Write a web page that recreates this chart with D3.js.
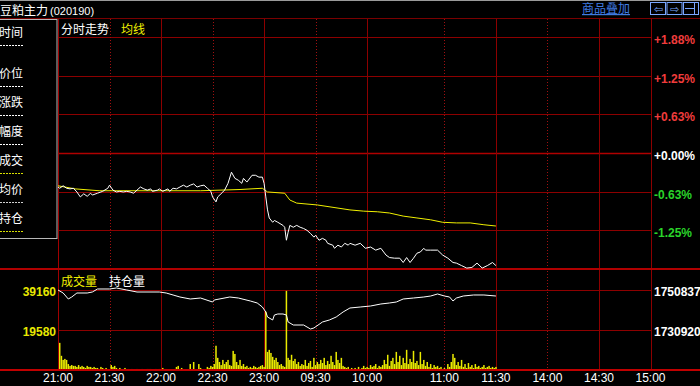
<!DOCTYPE html>
<html>
<head>
<meta charset="utf-8">
<script src="https://cdn.jsdelivr.net/npm/d3@7"></script>
<style>
body { margin: 0; background: #000; }
svg { display: block; }
text { font-family: "Liberation Sans", Arial, sans-serif; }
.cjk { font-family: "Noto Sans CJK SC", sans-serif; }
</style>
</head>
<body>
<svg width="700" height="386"></svg>
<script>
const width = 700, height = 386;

// trading sessions and axis labels
const sessions = [["21:00", "23:00"], ["09:00", "10:15"], ["10:30", "11:30"], ["13:30", "15:00"]];
const timeLabels = ["21:00", "21:30", "22:00", "22:30", "23:00", "09:30", "10:00", "11:00", "11:30", "14:00", "14:30", "15:00"];
const dottedTimes = ["21:30", "22:30", "09:30", "11:00", "14:00"];

const pctTicks = [1.875, 1.25, 0.625, 0, -0.625, -1.25];
const volTicks = [19580, 39160];
const oiTicks = [1730920, 1750837];

const infoLabels = ["时间", "价位", "涨跌", "幅度", "成交", "均价", "持仓"];

// price (% change) by trading minute
const priceMin = [0,1,3,5,7,9,11,13,15,17,19,20,23,25,26,29,30,32,34,36,38,40,42,44,46,48,50,52,54,55,58,59,61,64,65,67,69,71,73,75,77,79,81,83,85,87,89,90,92,93,96,97,99,101,103,105,107,108,110,113,115,117,119,120,121,122,123,125,126,128,131,132,133,134,135,137,139,141,143,145,147,149,150,152,154,156,157,160,161,163,165,167,169,170,173,176,179,182,185,188,191,193,196,199,201,203,205,207,209,211,213,214,217,221,224,227,230,232,235,238,241,244,247,250,253,255];
const pricePct = [-0.55,-0.57,-0.53,-0.57,-0.58,-0.57,-0.63,-0.71,-0.66,-0.70,-0.65,-0.68,-0.65,-0.63,-0.62,-0.57,-0.52,-0.60,-0.63,-0.62,-0.63,-0.62,-0.63,-0.65,-0.60,-0.55,-0.58,-0.60,-0.58,-0.62,-0.60,-0.58,-0.62,-0.58,-0.62,-0.57,-0.58,-0.55,-0.52,-0.55,-0.52,-0.50,-0.55,-0.53,-0.52,-0.57,-0.62,-0.71,-0.79,-0.71,-0.63,-0.60,-0.49,-0.31,-0.41,-0.44,-0.49,-0.41,-0.47,-0.36,-0.36,-0.39,-0.39,-0.49,-0.71,-0.92,-1.05,-1.12,-1.09,-1.12,-1.17,-1.20,-1.41,-1.28,-1.17,-1.20,-1.17,-1.20,-1.22,-1.25,-1.30,-1.36,-1.33,-1.41,-1.38,-1.41,-1.46,-1.49,-1.54,-1.49,-1.52,-1.46,-1.49,-1.46,-1.49,-1.46,-1.54,-1.52,-1.57,-1.54,-1.65,-1.69,-1.70,-1.70,-1.77,-1.69,-1.77,-1.70,-1.62,-1.60,-1.54,-1.57,-1.57,-1.57,-1.65,-1.70,-1.77,-1.78,-1.82,-1.86,-1.85,-1.78,-1.86,-1.82,-1.77,-1.82];

// average price (% change)
const avgMin = [0,4,10,24,54,83,106,119,122,132,135,139,151,170,178,186,193,201,209,217,224,232,240,248,255];
const avgPct = [-0.53,-0.55,-0.58,-0.61,-0.61,-0.61,-0.59,-0.57,-0.63,-0.65,-0.76,-0.81,-0.84,-0.92,-0.94,-0.95,-0.97,-1.02,-1.05,-1.08,-1.12,-1.13,-1.13,-1.16,-1.18];

// open interest
const oiMin = [0,3,6,8,11,17,20,23,30,34,40,46,59,63,67,71,77,83,90,91,100,105,112,116,119,121,122,125,126,128,131,133,134,137,143,147,149,154,158,162,166,170,176,182,188,193,197,201,207,213,217,221,225,228,230,232,236,242,248,255];
const oiVal = [1750590,1749090,1746110,1747100,1749090,1749090,1749590,1751090,1751090,1751580,1750590,1749590,1749590,1749090,1748100,1747100,1746110,1746600,1744610,1745610,1747100,1746600,1745110,1744120,1742120,1739640,1737150,1735650,1738140,1738640,1738640,1738140,1734660,1733160,1733160,1731170,1731670,1734660,1735650,1737150,1739640,1741630,1742120,1742620,1743620,1744120,1744610,1746110,1746600,1747100,1747600,1748600,1747600,1747100,1745110,1746600,1747600,1748100,1748100,1747600];

// volume per minute
const volume = [
  13200,6900,4900,5400,4900,2900,2000,2400,2000,2000,1500,2400,1500,2000,1500,1000,2000,1500,1500,1000,1500,1000,1000,500,1500,1000,500,1000,500,200,
  2400,1500,2000,1000,500,1000,200,500,1000,200,500,200,500,200,200,500,200,200,500,200,200,500,500,500,200,200,500,200,500,200,
  1000,200,500,200,200,200,200,500,1500,2000,200,1000,200,200,200,200,2900,200,3900,200,200,2900,1000,200,500,200,1500,1000,2000,1500,
  2900,11800,5900,3900,2400,4900,2900,3900,4900,2400,2000,9300,7800,3900,2400,4900,2000,2900,1500,2000,1000,1500,1000,2000,1500,1000,1500,2000,2400,1500,
  28400,8800,9800,8300,6400,4900,5900,3900,2400,2900,2000,1500,38500,5900,4900,7400,4400,5400,2900,3900,2000,2900,2400,4900,2000,3400,4400,1500,5900,2400,
  3900,2900,4900,3400,5900,2400,4400,2900,6900,3900,2400,8800,4900,3400,5900,2000,1500,1000,1500,500,1000,500,1000,500,1500,500,1000,2000,1000,1500,
  1000,2400,1500,2000,2900,1000,2000,1500,2400,4900,2900,7400,2000,4400,5900,2900,8800,3900,6900,2400,5900,3400,9800,2900,5400,3900,9300,3400,4400,2400,
  8800,2900,4900,2000,3900,1500,2900,1000,2400,1500,2000,1000,1500,500,1000,500,2900,1500,3900,7800,5900,2400,3900,2000,4900,1500,2900,1000,3400,1500,
  2400,1000,2900,1500,2000,1000,1500,2400,1000,1500,2000,1000,1500,1000,1500
];

function toMin(s) {
  const p = s.split(":").map(Number);
  return p[0] * 60 + p[1];
}
function tradingMinute(s) {
  let acc = 0;
  const m = toMin(s);
  for (const [a, b] of sessions) {
    const A = toMin(a), B = toMin(b);
    if (m >= A && m <= B) return acc + (m - A);
    acc += B - A;
  }
  return acc;
}
const totalMin = tradingMinute("15:00");

const svg = d3.select("svg");

const left = 58, right = 651;
const x = d3.scaleLinear().domain([0, totalMin]).range([left, right - 0.5]);
const yP = d3.scaleLinear().domain([-1.875, 1.875]).range([269, 37]);
const yV = d3.scaleLinear().domain([0, 39160]).range([370, 289.5]);
const yOI = d3.scaleLinear().domain(oiTicks).range([329.5, 289.5]);

const gridRed = "#8c0000";

// top line and title
svg.append("line").attr("x1", 0).attr("x2", width).attr("y1", 0.5).attr("y2", 0.5).attr("stroke", "#9a9a9a");
svg.append("text").attr("class", "cjk").attr("x", 0).attr("y", 15)
  .attr("fill", "#fff").attr("font-size", 12)
  .text("豆粕主力")
  .append("tspan").attr("font-size", 11).attr("font-family", "Liberation Sans").attr("dx", 2).text("(020190)");

svg.append("text").attr("class", "cjk").attr("x", 582).attr("y", 13)
  .attr("fill", "#3f7be0").attr("font-size", 12).attr("text-decoration", "underline")
  .text("商品叠加");

const icons = [{x: 650, s: "⇦"}, {x: 666.5, s: "⇨"}, {x: 683, s: ""}];
icons.forEach(function(d, i) {
  svg.append("rect").attr("x", d.x + 0.5).attr("y", 2.5).attr("width", 15).attr("height", 12)
    .attr("fill", "none").attr("stroke", "#7aa6ff");
  if (d.s) {
    svg.append("text").attr("x", d.x + 8).attr("y", 12.5).attr("text-anchor", "middle")
      .attr("fill", "#7aa6ff").attr("font-size", 11).attr("font-family", "DejaVu Sans").text(d.s);
  } else {
    svg.append("line").attr("x1", d.x + 2).attr("x2", d.x + 11).attr("y1", 8.5).attr("y2", 8.5).attr("stroke", "#7aa6ff");
    svg.append("line").attr("x1", d.x + 11.5).attr("x2", d.x + 11.5).attr("y1", 3).attr("y2", 14).attr("stroke", "#7aa6ff");
  }
});

svg.append("line").attr("x1", 0).attr("x2", width).attr("y1", 18.5).attr("y2", 18.5).attr("stroke", "#7a0000");

// horizontal grid, price panel
svg.selectAll(".pgrid").data(pctTicks).enter().append("line")
  .attr("x1", left).attr("x2", right)
  .attr("y1", d => Math.round(yP(d)) + 0.5).attr("y2", d => Math.round(yP(d)) + 0.5)
  .attr("stroke", d => d === 0 ? "#b00000" : gridRed)
  .attr("stroke-width", d => d === 0 ? 1.6 : 1);

// horizontal grid, volume panel
svg.selectAll(".vgrid").data(volTicks).enter().append("line")
  .attr("x1", left).attr("x2", right)
  .attr("y1", d => Math.round(yV(d)) + 0.5).attr("y2", d => Math.round(yV(d)) + 0.5)
  .attr("stroke", gridRed);

// vertical grid
svg.selectAll(".tgrid").data(timeLabels).enter().append("line")
  .attr("x1", d => Math.round(x(tradingMinute(d))) + 0.5)
  .attr("x2", d => Math.round(x(tradingMinute(d))) + 0.5)
  .attr("y1", 19).attr("y2", 370)
  .attr("stroke", d => dottedTimes.includes(d) ? "#a01010" : gridRed)
  .attr("stroke-dasharray", d => dottedTimes.includes(d) ? "1,2" : null);

svg.append("line").attr("x1", left + 0.5).attr("x2", left + 0.5).attr("y1", 19).attr("y2", 370).attr("stroke", "#a00000");

// panel separators
svg.append("line").attr("x1", 0).attr("x2", width).attr("y1", 269).attr("y2", 269).attr("stroke", "#b00000").attr("stroke-width", 2);
svg.append("line").attr("x1", 0).attr("x2", width).attr("y1", 370).attr("y2", 370).attr("stroke", "#c00000").attr("stroke-width", 2);

// left info box
svg.append("rect").attr("x", -1).attr("y", 19.5).attr("width", 58).attr("height", 219)
  .attr("fill", "#000").attr("stroke", "#b8b8b8");
const infoY = d => d === 0 ? 32 : 73 + (d - 1) * 29;
const dashColor = ["#fff", "#fff", "#fff", "#fff", "#d8e000", "#d0d0d0", "#d8e000"];
infoLabels.forEach(function(lab, i) {
  svg.append("text").attr("class", "cjk").attr("x", -1).attr("y", infoY(i) + 5)
    .attr("fill", "#fff").attr("font-size", 12).text(lab);
  svg.append("line").attr("x1", 0).attr("x2", 24).attr("y1", infoY(i) + 13.5).attr("y2", infoY(i) + 13.5)
    .attr("stroke", dashColor[i]).attr("stroke-dasharray", "2,1");
});

// panel headers
svg.append("text").attr("class", "cjk").attr("x", 61).attr("y", 34).attr("fill", "#fff").attr("font-size", 12).text("分时走势");
svg.append("text").attr("class", "cjk").attr("x", 121).attr("y", 34).attr("fill", "#f0f000").attr("font-size", 12).text("均线");
svg.append("text").attr("class", "cjk").attr("x", 61).attr("y", 286).attr("fill", "#f0f000").attr("font-size", 12).text("成交量");
svg.append("text").attr("class", "cjk").attr("x", 109).attr("y", 286).attr("fill", "#fff").attr("font-size", 12).text("持仓量");

// right axis labels
const pctColor = d => d > 0 ? "#f03c3c" : d < 0 ? "#2ad42a" : "#fff";
svg.selectAll(".plab").data(pctTicks).enter().append("text")
  .attr("x", 654).attr("y", d => yP(d) + 7)
  .attr("fill", pctColor).attr("font-size", 12).attr("font-weight", "bold")
  .text(d => (d >= 0 ? "+" : "") + d.toFixed(2) + "%");

svg.selectAll(".oilab").data(oiTicks).enter().append("text")
  .attr("x", 654).attr("y", d => yOI(d) + 6)
  .attr("fill", "#fff").attr("font-size", 12).attr("font-weight", "bold")
  .text(d => d);

svg.selectAll(".vlab").data(volTicks).enter().append("text")
  .attr("x", 56).attr("y", d => yV(d) + 6).attr("text-anchor", "end")
  .attr("fill", "#e8e800").attr("font-size", 12).attr("font-weight", "bold")
  .text(d => d);

// time labels
svg.selectAll(".tlab").data(timeLabels).enter().append("text")
  .attr("x", d => x(tradingMinute(d))).attr("y", 382).attr("text-anchor", "middle")
  .attr("fill", "#fff").attr("font-size", 12)
  .text(d => d);

// volume bars
svg.selectAll(".vol").data(volume).enter().append("rect")
  .attr("x", (d, i) => x(i + 1) - 0.75)
  .attr("y", d => yV(d))
  .attr("width", 1.5)
  .attr("height", d => 369 - yV(d))
  .attr("fill", "#eaea00");

// open interest line
svg.append("path")
  .datum(oiMin.map((m, i) => [m, oiVal[i]]))
  .attr("fill", "none").attr("stroke", "#fff").attr("stroke-width", 1)
  .attr("d", d3.line().x(d => x(d[0])).y(d => yOI(d[1])));

// average line
svg.append("path")
  .datum(avgMin.map((m, i) => [m, avgPct[i]]))
  .attr("fill", "none").attr("stroke", "#f0f000").attr("stroke-width", 1)
  .attr("d", d3.line().x(d => x(d[0])).y(d => yP(d[1])));

// price line
svg.append("path")
  .datum(priceMin.map((m, i) => [m, pricePct[i]]))
  .attr("fill", "none").attr("stroke", "#fff").attr("stroke-width", 1)
  .attr("d", d3.line().x(d => x(d[0])).y(d => yP(d[1])));
</script>
</body>
</html>
